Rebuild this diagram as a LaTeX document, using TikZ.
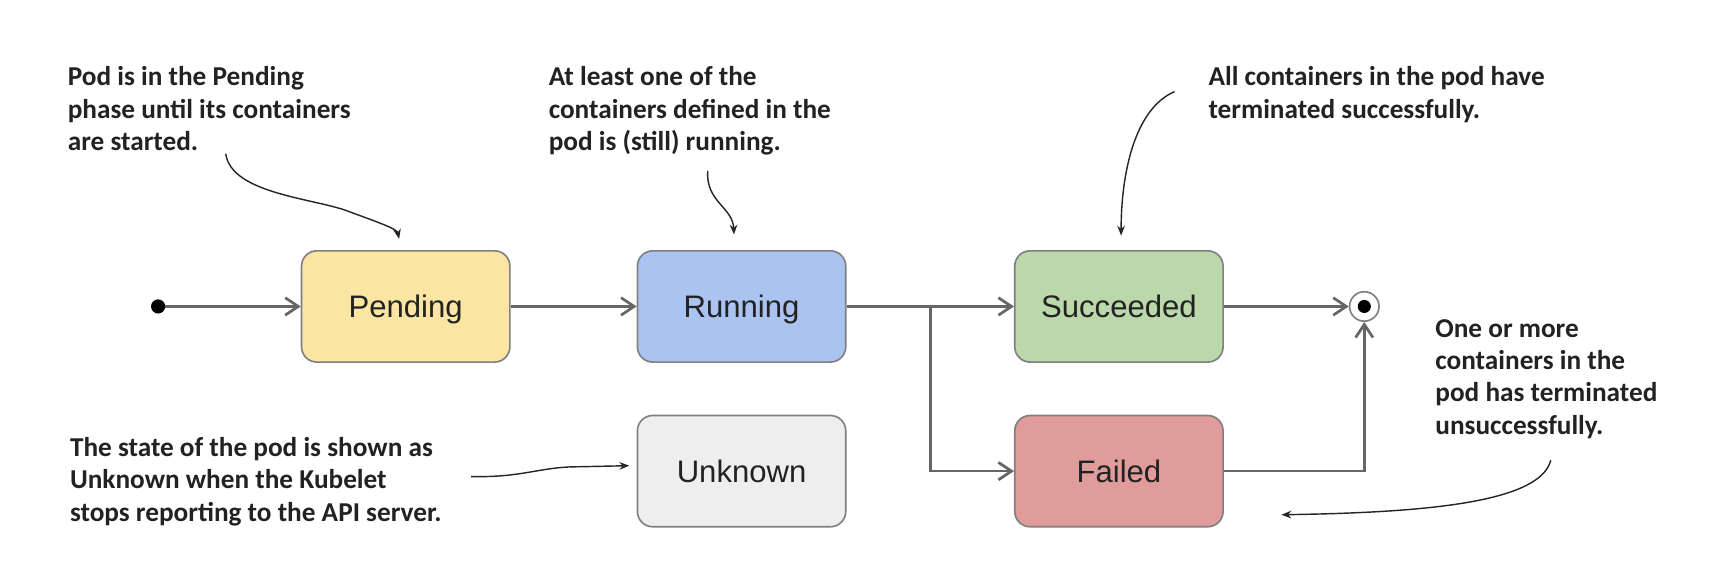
\documentclass[tikz,border=0pt]{standalone}
\usepackage{fontspec}
\setmainfont{Liberation Sans}
\newfontfamily\annfont{Carlito}
\usetikzlibrary{arrows.meta}
\definecolor{cpend}{HTML}{FAE5A2}
\definecolor{crun}{HTML}{AAC3F0}
\definecolor{csucc}{HTML}{BBD8AA}
\definecolor{cfail}{HTML}{E09C9A}
\definecolor{cunk}{HTML}{EEEEEE}
\definecolor{cborder}{HTML}{808080}
\definecolor{cline}{HTML}{666666}
\definecolor{ctext}{HTML}{222222}
\tikzset{
  state/.style={draw=cborder, line width=1.5pt, rounded corners=14pt,
    minimum width=191pt, minimum height=102pt, inner sep=0pt,
    text height=21pt, text depth=0pt,
    font=\fontsize{28.5}{34}\selectfont, text=ctext},
  conn/.style={draw=cline, line width=2.5pt,
    -{Straight Barb[length=12pt,width=16pt,line width=2.5pt]}},
  ann/.style={anchor=north west, inner sep=0pt, align=left, text=ctext,
    font=\annfont\bfseries\fontsize{25}{29.5}\selectfont},
  annarrow/.style={draw=black!85, line width=1.3pt,
    -{Stealth[length=9pt,width=7pt]}}
}
\begin{document}
\begin{tikzpicture}[x=1pt,y=-1pt]
\useasboundingbox (0,0) rectangle (1568,539);
\fill[white] (0,0) rectangle (1568,539);

% states
\node[state, fill=cpend] (pending) at (372,281) {Pending};
\node[state, fill=crun] (running) at (680,281) {Running};
\node[state, fill=csucc] (succeeded) at (1026,281) {Succeeded};
\node[state, fill=cfail] (failed) at (1026,432) {Failed};
\node[state, fill=cunk] (unknown) at (680,432) {Unknown};

% initial and final
\node[circle, fill=black, inner sep=0pt, minimum size=13pt] (start) at (145,281) {};
\node[circle, draw=cborder, line width=1.5pt, fill=white, inner sep=0pt, minimum size=27pt] (end) at (1251,281) {};
\node[circle, fill=black, inner sep=0pt, minimum size=12pt] (enddot) at (end.center) {};

% transitions
\draw[conn] (start) -- (pending.west);
\draw[conn] (pending.east) -- (running.west);
\draw[conn] (running.east) -- (succeeded.west);
\coordinate (br) at (853,281);
\draw[conn] (br) |- (failed.west);
\draw[conn] (succeeded.east) -- (end.west);
\draw[conn] (failed.east) -| (end.south);

% annotations
\node[ann] (n1) at (62,61) {Pod is in the Pending\\phase until its containers\\are started.};
\node[ann] (n2) at (503,61) {At least one of the\\containers defined in the\\pod is (still) running.};
\node[ann] (n3) at (1108,61) {All containers in the pod have\\terminated successfully.};
\node[ann] (n4) at (1316,293) {One or more\\containers in the\\pod has terminated\\unsuccessfully.};
\node[ann] (n5) at (64,401) {The state of the pod is shown as\\Unknown when the Kubelet\\stops reporting to the API server.};

\coordinate (a1s) at (207,141);
\coordinate (a1e) at (366,219);
\coordinate (a2s) at (649,157);
\coordinate (a2e) at (673,215);
\coordinate (a3s) at (1077,84);
\coordinate (a3e) at (1028,216);
\coordinate (a4s) at (1422,422);
\coordinate (a4e) at (1175,472);
\coordinate (a5s) at (432,437);
\coordinate (a5e) at (577,427);

\draw[annarrow] (a1s) .. controls (212,178) and (290,182) .. (320,194) .. controls (350,205) and (364,210) .. (a1e);
\draw[annarrow] (a2s) .. controls (647,185) and (672,190) .. (a2e);
\draw[annarrow] (a3s) .. controls (1040,100) and (1028,160) .. (a3e);
\draw[annarrow] (a4s) .. controls (1412,462) and (1300,470) .. (a4e);
\draw[annarrow] (a5s) .. controls (480,438) and (495,428) .. (530,428) -- (a5e);
\end{tikzpicture}
\end{document}
